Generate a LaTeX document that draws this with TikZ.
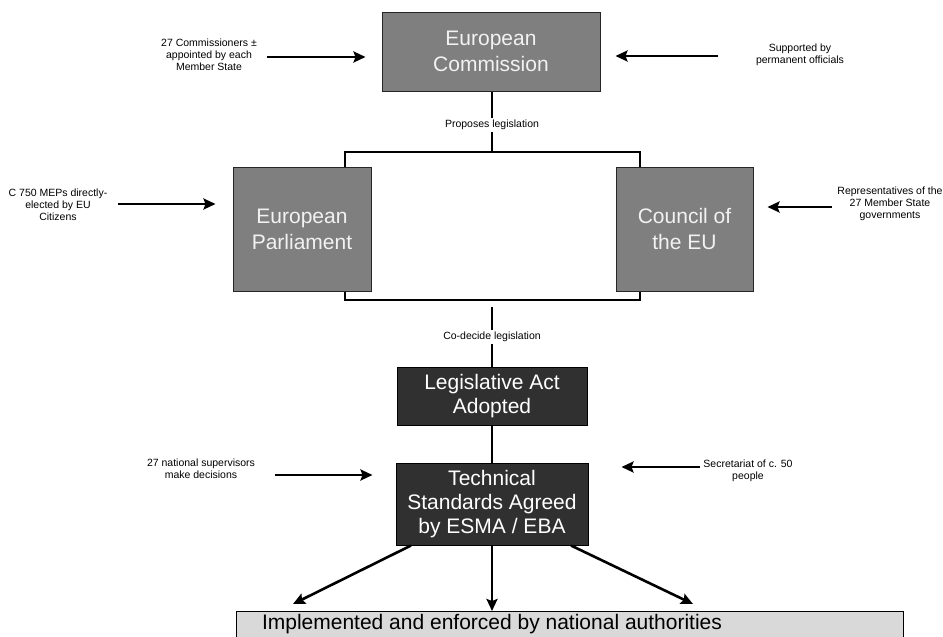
\documentclass[tikz,border=0pt]{standalone}
\usepackage{fontspec}
\setmainfont{Liberation Sans}
\usetikzlibrary{arrows.meta}
\definecolor{midgray}{HTML}{7F7F7F}
\definecolor{darkfill}{HTML}{303030}
\definecolor{barfill}{HTML}{D9D9D9}
\definecolor{boxtext}{HTML}{F2F2F2}
\tikzset{
  graybox/.style={draw=black!85, line width=1pt, fill=midgray, text=boxtext, align=center, inner sep=0pt,
    font=\fontsize{21}{26}\selectfont},
  darkbox/.style={draw=black, line width=1pt, fill=darkfill, text=white, align=center, inner sep=0pt,
    font=\fontsize{21}{24}\selectfont},
  smalltext/.style={align=center, inner sep=0pt, font=\fontsize{10.5}{12}\selectfont},
  lbl/.style={fill=white, inner sep=2pt, font=\fontsize{10.5}{12}\selectfont},
  arr/.style={line width=2.6pt, -{Stealth[length=12pt,width=11pt,inset=2pt]}},
  conn/.style={line width=1.1pt}
}
\begin{document}
\begin{tikzpicture}[x=1pt,y=-1pt]
\useasboundingbox (0,0) rectangle (943,637);
% main boxes
\node[graybox, minimum width=218pt, minimum height=79pt] (comm) at (491,51.5) {European\\Commission};
\node[graybox, minimum width=138pt, minimum height=124pt] (parl) at (302,229) {European\\Parliament};
\node[graybox, minimum width=137pt, minimum height=124pt] (coun) at (684.5,229) {Council of\\the EU};
\node[darkbox, minimum width=190pt, minimum height=58pt] (leg) at (492,396.5) {Legislative Act\\Adopted};
\node[darkbox, minimum width=192pt, minimum height=82pt] (tech) at (492,504) {Technical\\Standards Agreed\\by ESMA / EBA};
\node[draw=black, line width=1pt, fill=barfill, inner sep=0pt, minimum width=667pt, minimum height=32pt,
  anchor=north west] (bar) at (236,611) {};
\node[font=\fontsize{21}{24}\selectfont] (bartext) at (492,624) {Implemented and enforced by national authorities};
% side texts
\node[smalltext] (t1) at (209,55) {27 Commissioners ±\\appointed by each\\Member State};
\node[smalltext] (t2) at (800,55) {Supported by\\permanent officials};
\node[smalltext] (t3) at (58,205) {C 750 MEPs directly-\\elected by EU\\Citizens};
\node[smalltext] (t4) at (890,204) {Representatives of the\\27 Member State\\governments};
\node[smalltext] (t5) at (201,469) {27 national supervisors\\make decisions};
\node[smalltext] (t6) at (748,471) {Secretariat of c. 50\\people};
% side arrows
\coordinate (a1) at (267,57);
\draw[arr, shorten >=16pt] (a1) -- (a1 -| comm.west);
\coordinate (a2) at (718,56);
\draw[arr, shorten >=15pt] (a2) -- (a2 -| comm.east);
\coordinate (a3) at (118,204);
\draw[arr, shorten >=17pt] (a3) -- (a3 -| parl.west);
\coordinate (a4) at (832,207);
\draw[arr, shorten >=14pt] (a4) -- (a4 -| coun.east);
\coordinate (a5) at (275,475);
\draw[arr, shorten >=23pt] (a5) -- (a5 -| tech.west);
\coordinate (a6) at (700,467);
\draw[arr, shorten >=33pt] (a6) -- (a6 -| tech.east);
% brackets
\coordinate (bl) at (345,152);
\coordinate (br) at (640,152);
\draw[conn] (bl |- parl.north) -- (bl) -- (br) -- (br |- coun.north);
\draw[conn] (comm.south -| 492,0) -- (492,152);
\node[lbl] (prop) at (492,125) {Proposes legislation};
\coordinate (bbl) at (345,300);
\coordinate (bbr) at (640,300);
\draw[conn] (bbl |- parl.south) -- (bbl) -- (bbr) -- (bbr |- coun.south);
\coordinate (cd) at (492,307);
\draw[conn] (cd) -- (leg.north);
\node[lbl] (codec) at (492,337) {Co-decide legislation};
\draw[conn] (leg.south) -- (tech.north);
% bottom arrows
\draw[arr] ([xshift=-81pt]tech.south) -- (293,604);
\draw[arr] (tech.south) -- (tech.south |- bar.north);
\draw[arr] ([xshift=79pt]tech.south) -- (693,604);
\end{tikzpicture}
\end{document}
